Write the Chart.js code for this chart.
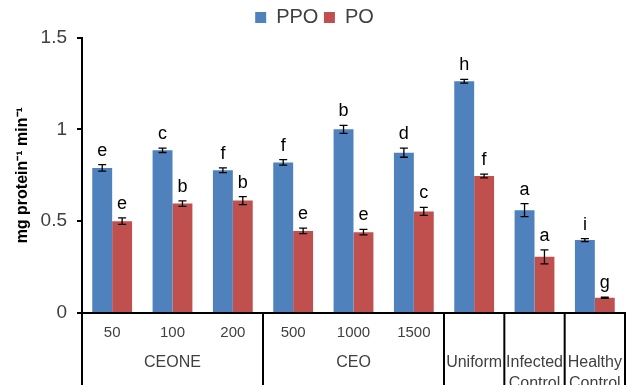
<!DOCTYPE html>
<html>
<head>
<meta charset="utf-8">
<script src="https://cdn.jsdelivr.net/npm/chart.js@4/dist/chart.umd.min.js"></script>
<style>
  html, body { margin: 0; padding: 0; background: #fff; }
  #wrap { width: 626px; height: 385px; position: relative; }
</style>
</head>
<body>
<div id="wrap"><canvas id="c"></canvas></div>
<script>
// Dose labels (first row of the category axis)
const doses = ["50", "100", "200", "500", "1000", "1500", "", "", ""];
// Treatment groups (second row) and how many dose columns each one spans
const groups = [["CEONE"], ["CEO"], ["Uniform"], ["Infected", "Control"], ["Healthy", "Control"]];
const groupSpans = [3, 3, 1, 1, 1];

// Enzyme activity, mg protein^-1 min^-1
const ppo    = [0.79, 0.886, 0.777, 0.82, 1.0, 0.873, 1.262, 0.56, 0.397];
const ppoErr = [0.018, 0.012, 0.013, 0.015, 0.022, 0.025, 0.010, 0.035, 0.008];
const po     = [0.50, 0.596, 0.612, 0.447, 0.44, 0.553, 0.746, 0.306, 0.083];
const poErr  = [0.018, 0.015, 0.022, 0.015, 0.015, 0.022, 0.010, 0.038, 0.003];

// Significance letters above each bar
const ppoLetters = ["e", "c", "f", "f", "b", "d", "h", "a", "i"];
const poLetters  = ["e", "b", "b", "e", "e", "c", "f", "a", "g"];

// Value-axis tick labels
const yTickLabels = { 0: "0", 0.5: "0.5", 1: "1", 1.5: "1.5" };

const FONT = "'Liberation Sans', Arial, sans-serif";

// Error bars and letters drawn on top of each bar
const errorBarPlugin = {
  id: 'errorBars',
  afterDatasetsDraw(chart) {
    const ctx = chart.ctx;
    const y = chart.scales.y;
    chart.data.datasets.forEach((ds, di) => {
      const meta = chart.getDatasetMeta(di);
      meta.data.forEach((bar, i) => {
        const v = ds.data[i], e = ds.errors[i];
        const yTop = y.getPixelForValue(v + e);
        const yBot = y.getPixelForValue(v - e);
        const x = bar.x;
        ctx.save();
        ctx.strokeStyle = '#000';
        ctx.lineWidth = 1.3;
        ctx.beginPath();
        ctx.moveTo(x, yTop); ctx.lineTo(x, yBot);
        ctx.moveTo(x - 4, yTop); ctx.lineTo(x + 4, yTop);
        ctx.moveTo(x - 4, yBot); ctx.lineTo(x + 4, yBot);
        ctx.stroke();
        ctx.fillStyle = '#000';
        ctx.font = '18px ' + FONT;
        ctx.textAlign = 'center';
        ctx.textBaseline = 'alphabetic';
        ctx.fillText(ds.letters[i], x, yTop - 9);
        ctx.restore();
      });
    });
  }
};

// Table-style second row of the category axis: separators and group names
const groupAxisPlugin = {
  id: 'groupAxis',
  afterDraw(chart) {
    const ctx = chart.ctx;
    const xs = chart.scales.x;
    const top = xs.top;
    const bottom = chart.height;
    ctx.save();
    ctx.strokeStyle = '#000';
    ctx.lineWidth = 2;
    let start = 0;
    const edges = [start];
    groupSpans.forEach(n => { start += n; edges.push(start); });
    edges.forEach(k => {
      const x = Math.min(xs.getPixelForValue(k - 0.5), chart.width - 1);
      ctx.beginPath();
      ctx.moveTo(x, top);
      ctx.lineTo(x, bottom);
      ctx.stroke();
    });
    ctx.fillStyle = '#404040';
    ctx.font = '16px ' + FONT;
    ctx.textAlign = 'center';
    ctx.textBaseline = 'middle';
    groups.forEach((lines, g) => {
      const a = edges[g], b = edges[g + 1];
      const cx = (xs.getPixelForValue(a - 0.5) + xs.getPixelForValue(b - 0.5)) / 2;
      lines.forEach((t, li) => {
        ctx.fillText(t, cx, top + 50 + li * 21);
      });
    });
    ctx.restore();
  }
};

new Chart(document.getElementById('c'), {
  type: 'bar',
  data: {
    labels: doses,
    datasets: [
      { label: 'PPO', data: ppo, errors: ppoErr, letters: ppoLetters,
        backgroundColor: '#4F81BD', borderWidth: 0 },
      { label: 'PO', data: po, errors: poErr, letters: poLetters,
        backgroundColor: '#C0504D', borderWidth: 0 }
    ]
  },
  options: {
    responsive: true,
    maintainAspectRatio: false,
    animation: false,
    layout: { padding: { left: 4, right: 1, top: 2, bottom: 0 } },
    datasets: { bar: { categoryPercentage: 0.66, barPercentage: 1.0 } },
    plugins: {
      legend: {
        position: 'top',
        labels: {
          font: { family: FONT, size: 20 },
          color: '#404040',
          boxWidth: 11,
          boxHeight: 11,
          padding: 5.5
        }
      },
      tooltip: { enabled: false }
    },
    scales: {
      x: {
        grid: { display: false, drawTicks: false },
        border: { color: '#000', width: 2 },
        ticks: {
          color: '#404040',
          font: { family: FONT, size: 15 },
          padding: 11,
          maxRotation: 0,
          autoSkip: false
        },
        afterFit(s) { s.height = 72; }
      },
      y: {
        min: 0,
        max: 1.5,
        ticks: {
          stepSize: 0.5,
          color: '#404040',
          font: { family: FONT, size: 19 },
          padding: 10,
          callback: v => yTickLabels[v] ?? String(v)
        },
        grid: { display: true, drawOnChartArea: false, tickLength: 5, color: '#000', lineWidth: 2 },
        border: { color: '#000', width: 2 },
        title: {
          display: true,
          text: 'mg protein\u207B\u00B9 min\u207B\u00B9',
          color: '#000',
          font: { family: FONT, size: 16, weight: 'bold' },
          padding: { top: 9, bottom: 4 }
        },
        afterFit(s) { s.width = 78; }
      }
    }
  },
  plugins: [errorBarPlugin, groupAxisPlugin]
});
</script>
</body>
</html>
